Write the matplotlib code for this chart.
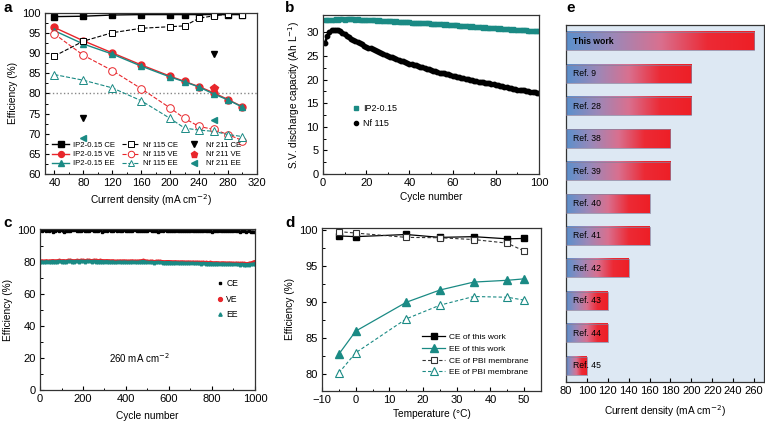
import numpy as np
import matplotlib
matplotlib.use("Agg")
import matplotlib.pyplot as plt
from matplotlib.ticker import MultipleLocator
from matplotlib.lines import Line2D
from matplotlib.colors import LinearSegmentedColormap

plt.rcParams['font.family'] = ['Liberation Sans', 'DejaVu Sans']
plt.rcParams['font.size'] = 8
plt.rcParams['axes.linewidth'] = 0.9
plt.rcParams['axes.edgecolor'] = '#333333'

TEAL = '#1a8a84'
RED = '#e8262b'
LABEL_FS = 7.3

# ---------------- Panel a data ----------------
cd_a = [40, 80, 120, 160, 200, 220, 240, 260, 280, 300]
ip2_ce = [99.1, 99.2, 99.5, 99.6, 99.6, 99.6, 99.6, 99.6, 99.6, 99.6]
ip2_ve = [96.4, 93.1, 90.1, 87.1, 84.3, 83.0, 81.7, 80.2, 78.5, 76.7]
ip2_ee = [95.6, 92.3, 89.8, 86.8, 84.1, 82.9, 81.6, 79.9, 78.4, 76.6]
nf115_ce = [89.3, 93.0, 95.1, 96.2, 96.6, 96.8, 98.7, 99.3, 99.7, 99.6]
nf115_ve = [94.8, 89.5, 85.7, 81.2, 76.4, 73.8, 71.8, 71.1, 69.8, 68.3]
nf115_ee = [84.7, 83.3, 81.4, 78.2, 73.8, 71.4, 70.9, 70.6, 69.8, 69.3]
nf211_x = [80, 260]
nf211_ce = [73.9, 89.9]
nf211_ve_x = [260]
nf211_ve = [81.3]
nf211_ee = [68.9, 73.3]

# ---------------- Panel b data ----------------
cycles_b = list(range(1, 101))
cap_ip2 = [32.6, 32.7, 32.7, 32.6, 32.7, 32.8, 32.7, 32.8, 32.8, 32.7,
           32.8, 32.9, 32.8, 32.8, 32.7, 32.8, 32.7, 32.7, 32.6, 32.7,
           32.6, 32.6, 32.7, 32.6, 32.5, 32.6, 32.5, 32.5, 32.4, 32.5,
           32.4, 32.4, 32.3, 32.4, 32.3, 32.3, 32.2, 32.3, 32.2, 32.2,
           32.1, 32.1, 32.0, 32.1, 32.0, 31.9, 32.0, 31.9, 31.9, 31.8,
           31.8, 31.8, 31.7, 31.8, 31.7, 31.6, 31.7, 31.6, 31.6, 31.5,
           31.5, 31.5, 31.4, 31.4, 31.4, 31.3, 31.3, 31.2, 31.3, 31.2,
           31.1, 31.2, 31.1, 31.0, 31.1, 31.0, 30.9, 31.0, 30.9, 30.9,
           30.8, 30.9, 30.8, 30.7, 30.8, 30.7, 30.6, 30.7, 30.6, 30.6,
           30.5, 30.6, 30.5, 30.5, 30.4, 30.4, 30.4, 30.3, 30.3, 30.2]
cap_nf115 = [27.8, 29.3, 30.1, 30.5, 30.6, 30.6, 30.5, 30.2, 29.9, 29.6,
             29.3, 29.0, 28.7, 28.5, 28.2, 28.0, 27.7, 27.5, 27.2, 27.0,
             26.8, 26.6, 26.4, 26.2, 26.0, 25.8, 25.6, 25.4, 25.2, 25.0,
             24.8, 24.7, 24.5, 24.3, 24.2, 24.0, 23.9, 23.7, 23.6, 23.4,
             23.3, 23.1, 23.0, 22.9, 22.7, 22.6, 22.5, 22.3, 22.2, 22.0,
             21.9, 21.8, 21.7, 21.5, 21.4, 21.3, 21.2, 21.1, 20.9, 20.8,
             20.7, 20.6, 20.5, 20.4, 20.3, 20.2, 20.1, 20.0, 19.9, 19.8,
             19.7, 19.6, 19.5, 19.4, 19.3, 19.3, 19.2, 19.1, 19.0, 18.9,
             18.8, 18.7, 18.6, 18.5, 18.4, 18.3, 18.2, 18.1, 18.0, 17.9,
             17.8, 17.8, 17.7, 17.6, 17.5, 17.4, 17.4, 17.3, 17.2, 17.1]

# ---------------- Panel c data ----------------
cycles_c = list(range(0, 1001, 10))
ce_c = [99.6, 99.4, 99.7, 99.2, 99.5, 99.6, 98.9, 99.5, 99.7, 99.3,
        99.6, 98.6, 99.4, 99.5, 99.1, 99.6, 99.7, 99.4, 99.2, 99.5,
        99.6, 99.3, 99.5, 99.4, 99.6, 99.5, 99.2, 99.5, 99.7, 98.8,
        99.4, 99.5, 99.6, 99.4, 99.5, 99.6, 99.3, 99.5, 99.4, 99.6,
        99.5, 99.4, 99.2, 99.5, 99.6, 99.4, 99.3, 99.5, 99.1, 99.4,
        99.5, 99.6, 99.3, 99.5, 99.2, 98.9, 99.4, 99.5, 99.6, 99.3,
        99.5, 99.4, 99.5, 99.3, 99.4, 99.2, 99.5, 99.4, 99.3, 99.5,
        99.4, 99.3, 99.5, 99.4, 99.2, 99.3, 99.4, 99.2, 99.3, 99.4,
        98.7, 99.3, 99.2, 99.1, 99.3, 99.2, 99.1, 99.2, 99.0, 99.1,
        99.2, 99.0, 99.1, 98.9, 99.0, 99.1, 98.9, 99.0, 98.8, 98.9,
        98.7]
ve_c = [80.5, 80.6, 80.4, 80.7, 80.5, 80.6, 80.8, 80.6, 80.7, 80.9,
        80.7, 80.8, 80.6, 80.9, 81.0, 80.8, 80.7, 80.9, 80.8, 81.0,
        80.9, 80.8, 81.0, 80.9, 80.8, 81.0, 80.9, 80.8, 80.9, 80.8,
        80.7, 80.8, 80.7, 80.6, 80.7, 80.3, 80.5, 80.6, 80.5, 80.6,
        80.5, 80.4, 80.5, 80.6, 80.5, 80.4, 80.5, 80.7, 80.9, 80.6,
        80.4, 80.3, 80.4, 80.2, 80.3, 80.4, 80.3, 80.2, 80.1, 80.2,
        80.2, 80.1, 80.0, 80.1, 80.0, 79.9, 80.0, 79.9, 79.8, 79.9,
        79.8, 79.9, 79.7, 79.8, 79.7, 79.6, 79.7, 79.6, 79.5, 79.6,
        79.5, 79.4, 79.5, 79.4, 79.3, 79.4, 79.3, 79.2, 79.3, 79.2,
        79.1, 79.2, 79.1, 79.0, 79.1, 79.0, 78.9, 79.0, 79.3, 79.7,
        80.2]
ee_c = [79.9, 80.0, 79.8, 80.1, 79.9, 80.0, 80.2, 80.0, 80.1, 80.3,
        80.1, 80.2, 80.0, 80.3, 80.4, 80.2, 80.1, 80.3, 80.2, 80.4,
        80.3, 80.2, 80.4, 80.3, 80.1, 80.3, 80.2, 80.1, 80.2, 80.1,
        80.0, 80.1, 80.0, 79.9, 80.0, 79.6, 79.8, 79.9, 79.8, 79.9,
        79.8, 79.7, 79.8, 79.9, 79.8, 79.7, 79.8, 80.0, 80.2, 79.9,
        79.7, 79.6, 79.7, 79.5, 79.6, 79.7, 79.6, 79.5, 79.4, 79.5,
        79.5, 79.4, 79.3, 79.4, 79.3, 79.2, 79.3, 79.2, 79.1, 79.2,
        79.1, 79.2, 79.0, 79.1, 79.0, 78.9, 79.0, 78.9, 78.8, 78.9,
        78.8, 78.7, 78.8, 78.7, 78.6, 78.7, 78.6, 78.5, 78.6, 78.5,
        78.4, 78.5, 78.4, 78.3, 78.4, 78.3, 78.2, 78.3, 78.4, 78.6,
        78.8]

# ---------------- Panel d data ----------------
temps = [-5, 0, 15, 25, 35, 45, 50]
ce_this = [99.2, 99.1, 99.4, 99.0, 99.1, 98.8, 98.85]
ee_this = [82.8, 86.0, 90.0, 91.7, 92.8, 93.05, 93.25]
ce_pbi = [99.8, 99.6, 99.0, 98.95, 98.7, 98.2, 97.1]
ee_pbi = [80.2, 83.0, 87.7, 89.6, 90.8, 90.7, 90.3]

# ---------------- Panel e data ----------------
refs = ['This work', 'Ref. 9', 'Ref. 28', 'Ref. 38', 'Ref. 39', 'Ref. 40',
        'Ref. 41', 'Ref. 42', 'Ref. 43', 'Ref. 44', 'Ref. 45']
ref_cd = [260, 200, 200, 180, 180, 160, 160, 140, 120, 120, 100]

fig = plt.figure(figsize=(7.65, 4.22), dpi=100)


def style(ax):
    ax.tick_params(direction='in', which='both', top=False, right=False,
                   labelsize=8, pad=3)
    ax.tick_params(which='major', length=3, width=0.8)
    ax.tick_params(which='minor', length=1.8, width=0.7)


# ---------------- a ----------------
axa = fig.add_axes([0.0588, 0.5877, 0.2771, 0.3815])
axa.axhline(80, color='#888888', ls=':', lw=1.0, zorder=1)
axa.plot(cd_a, ip2_ce, '-s', color='k', ms=4.5, lw=1.0, label='IP2-0.15 CE')
axa.plot(cd_a, ip2_ve, '-o', color=RED, ms=5, lw=1.0, label='IP2-0.15 VE')
axa.plot(cd_a, ip2_ee, '-^', color=TEAL, ms=5, lw=1.0, label='IP2-0.15 EE')
axa.plot(cd_a, nf115_ce, '--s', color='k', mfc='white', ms=5, lw=0.8,
         mew=0.7, label='Nf 115 CE')
axa.plot(cd_a, nf115_ve, '--o', color=RED, mfc='white', ms=5.5, lw=0.8,
         mew=0.7, label='Nf 115 VE')
axa.plot(cd_a, nf115_ee, '--^', color=TEAL, mfc='white', ms=5.5, lw=0.8,
         mew=0.7, label='Nf 115 EE')
axa.plot(nf211_x, nf211_ce, 'v', color='k', ms=5, ls='none', label='Nf 211 CE')
axa.plot(nf211_ve_x, nf211_ve, 'p', color=RED, ms=5.5, ls='none', label='Nf 211 VE')
axa.plot(nf211_x, nf211_ee, '<', color=TEAL, ms=5, ls='none', label='Nf 211 EE')
axa.set_xlim(27, 320)
axa.set_ylim(60, 100)
axa.xaxis.set_major_locator(MultipleLocator(40))
axa.xaxis.set_minor_locator(MultipleLocator(20))
axa.yaxis.set_major_locator(MultipleLocator(5))
axa.yaxis.set_minor_locator(MultipleLocator(2.5))
axa.set_xlabel('Current density (mA cm$^{-2}$)', fontsize=LABEL_FS, labelpad=3)
axa.set_ylabel('Efficiency (%)', fontsize=LABEL_FS, labelpad=3)
style(axa)
axa.legend(ncol=3, loc='lower left', bbox_to_anchor=(0.0, 0.0), frameon=False,
           fontsize=5.6, handlelength=2.3, columnspacing=0.9, labelspacing=0.22,
           handletextpad=0.4, borderpad=0.35, markerscale=0.85)

# ---------------- b ----------------
axb = fig.add_axes([0.4222, 0.5877, 0.2824, 0.3768])
axb.plot(cycles_b, cap_ip2, '-s', color=TEAL, ms=2.8, lw=1.5, label='IP2-0.15')
axb.plot(cycles_b, cap_nf115, '-o', color='k', ms=3.2, lw=1.8, label='Nf 115')
axb.set_xlim(0, 100)
axb.set_ylim(0, 33.7)
axb.xaxis.set_major_locator(MultipleLocator(20))
axb.xaxis.set_minor_locator(MultipleLocator(10))
axb.yaxis.set_major_locator(MultipleLocator(5))
axb.yaxis.set_minor_locator(MultipleLocator(2.5))
axb.set_xlabel('Cycle number', fontsize=LABEL_FS, labelpad=3)
axb.set_ylabel('S.V. discharge capacity (Ah L$^{-1}$)', fontsize=LABEL_FS,
               labelpad=3)
style(axb)
hb = [Line2D([], [], ls='none', marker='s', ms=2.6, color=TEAL),
      Line2D([], [], ls='none', marker='o', ms=3.0, color='k')]
axb.legend(hb, ['IP2-0.15', 'Nf 115'], loc='center left',
           bbox_to_anchor=(0.1, 0.365), frameon=False, fontsize=6.5,
           handlelength=0.8, handletextpad=0.3, labelspacing=0.6)

# ---------------- c ----------------
axc = fig.add_axes([0.0523, 0.0758, 0.281, 0.3815])
axc.plot(cycles_c, ce_c, '-s', color='k', ms=1.6, lw=1.8, label='CE')
axc.plot(cycles_c, ve_c, '-o', color=RED, ms=1.8, lw=2.2, label='VE')
axc.plot(cycles_c, ee_c, '-^', color=TEAL, ms=1.8, lw=2.4, label='EE')
axc.set_xlim(0, 1000)
axc.set_ylim(0, 100.5)
axc.xaxis.set_major_locator(MultipleLocator(200))
axc.xaxis.set_minor_locator(MultipleLocator(100))
axc.yaxis.set_major_locator(MultipleLocator(20))
axc.yaxis.set_minor_locator(MultipleLocator(10))
axc.set_xlabel('Cycle number', fontsize=LABEL_FS, labelpad=5)
axc.set_ylabel('Efficiency (%)', fontsize=LABEL_FS, labelpad=3)
style(axc)
hc = [Line2D([], [], ls='none', marker='s', ms=2.0, color='k'),
      Line2D([], [], ls='none', marker='o', ms=2.8, color=RED),
      Line2D([], [], ls='none', marker='^', ms=2.4, color=TEAL)]
axc.legend(hc, ['CE', 'VE', 'EE'], loc='center left',
           bbox_to_anchor=(0.79, 0.565), frameon=False, fontsize=6.2,
           handlelength=0.6, handletextpad=0.4, labelspacing=0.75)
axc.text(320, 20, '260 mA cm$^{-2}$', fontsize=7, ha='left', va='center')

# ---------------- d ----------------
axd = fig.add_axes([0.4209, 0.0735, 0.2863, 0.3862])
axd.plot(temps, ce_this, '-s', color='k', ms=5, lw=0.9, label='CE of this work')
axd.plot(temps, ee_this, '-^', color=TEAL, ms=6, lw=0.9, label='EE of this work')
axd.plot(temps, ce_pbi, '--s', color='#333333', mfc='white', ms=5, lw=0.8,
         mew=0.8, dashes=(3, 2), label='CE of PBI membrane')
axd.plot(temps, ee_pbi, '--^', color=TEAL, mfc='white', ms=6, lw=0.8,
         mew=0.8, dashes=(3, 2), label='EE of PBI membrane')
axd.set_xlim(-10, 55)
axd.set_ylim(77.7, 100.3)
axd.xaxis.set_major_locator(MultipleLocator(10))
axd.xaxis.set_minor_locator(MultipleLocator(5))
axd.yaxis.set_major_locator(MultipleLocator(5))
axd.yaxis.set_minor_locator(MultipleLocator(2.5))
axd.set_xlabel('Temperature (°C)', fontsize=LABEL_FS, labelpad=3)
axd.set_ylabel('Efficiency (%)', fontsize=LABEL_FS, labelpad=3)
style(axd)
axd.legend(loc='lower right', bbox_to_anchor=(0.975, 0.045), frameon=False,
           fontsize=6.0, handlelength=2.7, handletextpad=0.45, labelspacing=0.45,
           markerscale=0.9)

# ---------------- e ----------------
axe = fig.add_axes([0.7399, 0.0948, 0.2588, 0.846])
axe.set_facecolor('#dde8f3')
ypos = np.arange(len(refs))
bars = axe.barh(ypos, np.array(ref_cd) - 80, left=80, height=0.56,
                facecolor='none', edgecolor='#8a7f9a', lw=0.5, zorder=3)
cmap = LinearSegmentedColormap.from_list(
    'br', ['#5b90cc', '#9c88b8', '#d9708f', '#ec2a35', '#ee1f26'])
grad = np.linspace(0, 1, 256).reshape(1, -1)
for b in bars:
    x0, y0, w, h = b.get_x(), b.get_y(), b.get_width(), b.get_height()
    axe.imshow(grad, cmap=cmap, aspect='auto', extent=(x0, x0 + w, y0 + h, y0),
               zorder=2, interpolation='bilinear')
for i, name in enumerate(refs):
    axe.text(86.5, ypos[i], name, fontsize=6.2, va='center', ha='left',
             fontweight='bold' if i == 0 else 'normal', zorder=4)
axe.set_xlim(80, 269.5)
axe.set_ylim(10.5, -0.5)
axe.set_yticks([])
axe.set_xticks(np.arange(80, 261, 20))
axe.set_xlabel('Current density (mA cm$^{-2}$)', fontsize=LABEL_FS, labelpad=5)
axe.tick_params(axis='x', direction='in', length=3, labelsize=8, pad=3,
                top=False)

# ---------------- panel letters ----------------
for lab, (px, py) in {'a': (3, 12), 'b': (285, 12), 'c': (3, 227),
                      'd': (285, 227), 'e': (566, 12)}.items():
    fig.text(px / 765, 1 - py / 422, lab, fontsize=11, fontweight='bold',
             ha='left', va='baseline')

fig.savefig('out.png', dpi=100)
